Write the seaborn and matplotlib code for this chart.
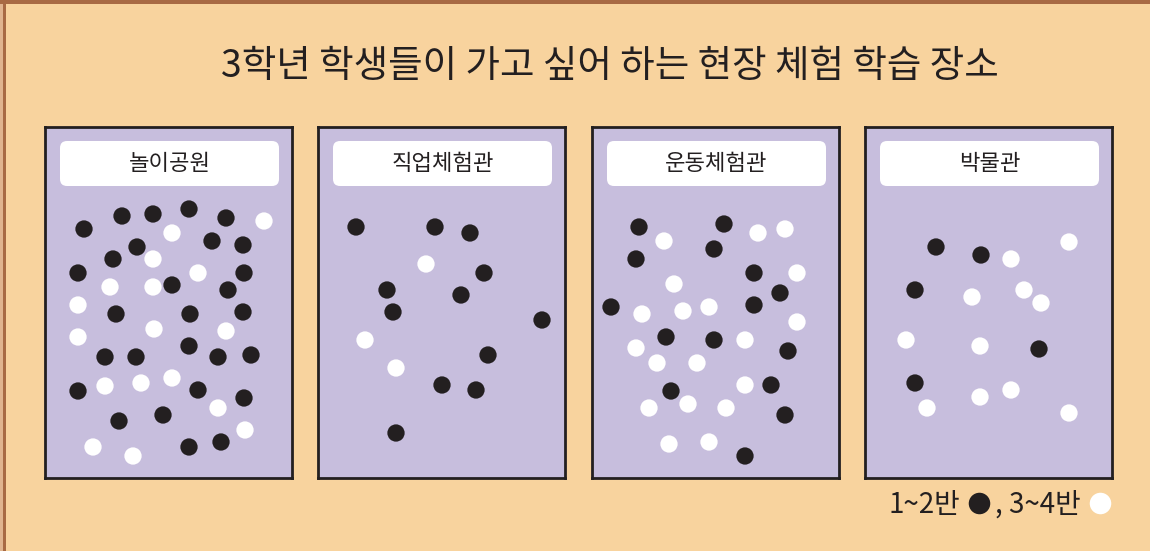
import numpy as np
import pandas as pd
import matplotlib
matplotlib.use("Agg")
import matplotlib.pyplot as plt
from matplotlib.patches import FancyBboxPatch, Rectangle
from matplotlib.lines import Line2D
import seaborn as sns

# ------------------------------------------------------------
# data: each dot is one student, (x, y) inside its panel
# (panel units: 0..247 across, 0..351 down)
# ------------------------------------------------------------
title = "3학년 학생들이 가고 싶어 하는 현장 체험 학습 장소"
places = ["놀이공원", "직업체험관", "운동체험관", "박물관"]
groups = ["1~2반", "3~4반"]

park_black = [(39, 102), (77, 89), (108, 87), (144, 82), (181, 91), (92, 120),
              (167, 114), (198, 118), (68, 132), (33, 146), (127, 158), (199, 146),
              (183, 163), (71, 187), (145, 187), (198, 185), (144, 219), (60, 230),
              (91, 230), (173, 230), (206, 228), (33, 264), (153, 263), (199, 271),
              (74, 294), (118, 288), (144, 320), (176, 315)]
park_white = [(219, 94), (127, 106), (108, 132), (153, 146), (65, 160), (108, 160),
              (33, 178), (33, 210), (109, 202), (181, 204), (60, 259), (96, 256),
              (127, 251), (173, 281), (200, 303), (48, 320), (88, 329)]

job_black = [(38, 100), (117, 100), (152, 106), (166, 146), (69, 163), (143, 168),
             (75, 185), (224, 193), (170, 228), (124, 258), (158, 263), (78, 306)]
job_white = [(108, 137), (47, 213), (78, 241)]

sport_black = [(47, 100), (132, 97), (122, 122), (44, 132), (162, 146), (188, 166),
               (19, 180), (162, 178), (74, 210), (122, 213), (196, 224), (79, 264),
               (179, 258), (193, 288), (153, 329)]
sport_white = [(72, 114), (166, 106), (193, 102), (205, 146), (82, 157), (50, 187),
               (91, 184), (117, 180), (205, 195), (153, 213), (44, 221), (65, 236),
               (105, 236), (153, 258), (57, 281), (96, 277), (134, 281), (77, 317),
               (117, 315)]

museum_black = [(71, 120), (116, 128), (50, 163), (174, 222), (50, 256)]
museum_white = [(204, 115), (146, 132), (107, 170), (159, 163), (176, 176), (41, 213),
                (115, 219), (115, 270), (146, 263), (62, 281), (204, 286)]

dots = [(park_black, park_white), (job_black, job_white),
        (sport_black, sport_white), (museum_black, museum_white)]

# ------------------------------------------------------------
# style
# ------------------------------------------------------------
sns.set_style("white")
plt.rcParams["font.family"] = ["Noto Sans CJK KR", "DejaVu Sans"]

BG = "#F8D39E"
PANEL = "#C7BEDD"
INK = "#231F20"
palette = {groups[0]: INK, groups[1]: "white"}

W, H = 1150, 551
fig = plt.figure(figsize=(W / 100, H / 100), dpi=100, facecolor=BG)

# brown frame on top and left edge
fig.add_artist(Rectangle((0, 0), 3 / W, 1, transform=fig.transFigure,
                         facecolor="#E0B48F", edgecolor="none"))
fig.add_artist(Rectangle((3 / W, 0), 3 / W, 1, transform=fig.transFigure,
                         facecolor="#A86A44", edgecolor="none"))
fig.add_artist(Rectangle((0, 1 - 4 / H), 1, 4 / H, transform=fig.transFigure,
                         facecolor="#A86A44", edgecolor="none"))

fig.text(610 / W, 1 - 67 / H, title, ha="center", va="center",
         fontsize=27, color=INK)

panel_left = [45, 318, 592, 865]
panel_top, panel_w, panel_h = 127, 247, 351

for i, place in enumerate(places):
    ax = fig.add_axes([panel_left[i] / W, 1 - (panel_top + panel_h) / H,
                       panel_w / W, panel_h / H])
    ax.set_facecolor(PANEL)
    black, white = dots[i]
    df = pd.DataFrame(black + white, columns=["x", "y"])
    df["group"] = [groups[0]] * len(black) + [groups[1]] * len(white)
    sns.scatterplot(data=df, x="x", y="y", hue="group", palette=palette,
                    s=155, linewidth=0, legend=False, ax=ax, zorder=3)
    ax.set_xlim(0, panel_w)
    ax.set_ylim(panel_h, 0)
    ax.set_xticks([])
    ax.set_yticks([])
    ax.set_xlabel("")
    ax.set_ylabel("")
    for sp in ax.spines.values():
        sp.set_visible(True)
        sp.set_color(INK)
        sp.set_linewidth(2)

    box = FancyBboxPatch((15, 14), 219, 45,
                         boxstyle="round,pad=0,rounding_size=7",
                         facecolor="white", edgecolor="none", zorder=2)
    ax.add_patch(box)
    ax.text(124.5, 36.5, place, ha="center", va="center",
            fontsize=16, color=INK, zorder=4)

handles = [Line2D([], [], marker="o", ls="", markersize=15.5,
                  markerfacecolor=palette[g], markeredgecolor="none") for g in groups]
fig.legend(handles, [groups[0], ", " + groups[1]], loc="center right",
           bbox_to_anchor=(1126 / W, 1 - 505 / H), ncol=2, markerfirst=False,
           frameon=False, prop={"size": 20, "weight": "medium"},
           handletextpad=0.25, columnspacing=0.1,
           handlelength=0.9, borderpad=0, labelcolor=INK)

fig.savefig("out.png", dpi=100, facecolor=BG)
